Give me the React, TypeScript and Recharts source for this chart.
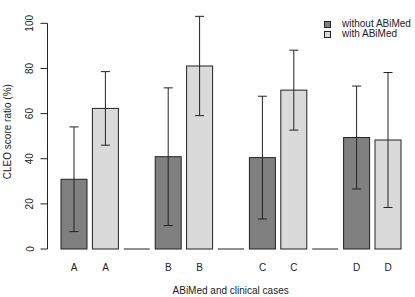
import React from "react";
import { BarChart, Bar, XAxis, YAxis, ErrorBar, ReferenceLine } from "recharts";

// scores (%), one value per clinical case
const cases = ["A", "B", "C", "D"];
const withoutScores = [30.9, 40.9, 40.5, 49.4];
const withoutErrors = [23.2, 30.5, 27.2, 22.8];
const withScores = [62.3, 81.1, 70.4, 48.3];
const withErrors = [16.3, 22.0, 17.7, 29.9];
const yTicks = [0, 20, 40, 60, 80, 100];
const seriesNames = ["without ABiMed", "with ABiMed"];

const FONT = "'Liberation Sans', Arial, Helvetica, sans-serif";
const INK = "#222";
const DARK = "#808080";
const LIGHT = "#dadada";
const AXIS_X = 47.5;

// bars go without / with, then an empty (zero) slot between cases
const rows = cases.flatMap((c, i) => {
  const pair = [
    { key: `${c}-without`, label: c, group: 0, value: withoutScores[i], err: withoutErrors[i] },
    { key: `${c}-with`, label: c, group: 1, value: withScores[i], err: withErrors[i] },
  ];
  if (i === cases.length - 1) return pair;
  return [...pair, { key: `gap-${i}`, label: "", group: -1, value: 0, err: null }];
});

const BarShape = (props: any) => {
  const { x, y, width, height, payload } = props;
  if (!height) {
    return <line x1={x} x2={x + width} y1={y} y2={y} stroke={INK} strokeWidth={1} />;
  }
  const fill = payload.group === 0 ? DARK : LIGHT;
  return <rect x={x} y={y} width={width} height={height} fill={fill} stroke={INK} strokeWidth={1} />;
};

const YTick = (props: any) => {
  const { x, y, payload } = props;
  const bx = x - 7;
  return (
    <text
      x={bx}
      y={y}
      transform={`rotate(-90 ${bx} ${y})`}
      textAnchor="middle"
      fontSize={10}
      fill={INK}
      fontFamily={FONT}
    >
      {payload.value}
    </text>
  );
};

const AxisLine = (props: any) => (
  <line x1={AXIS_X} x2={AXIS_X} y1={props.y1} y2={props.y2} stroke={INK} strokeWidth={1} />
);

export default function App() {
  return (
    <div
      style={{
        position: "absolute",
        left: 0,
        top: 0,
        width: 415,
        height: 297,
        background: "#fff",
        fontFamily: FONT,
      }}
    >
      <BarChart
        width={415}
        height={297}
        data={rows}
        margin={{ top: 14.3, right: 11.2, bottom: 0, left: 0 }}
        barCategoryGap={2.6}
      >
        <XAxis
          dataKey="key"
          height={48}
          axisLine={false}
          tickLine={false}
          tickSize={0}
          tickMargin={15}
          interval={0}
          padding={{ left: 10.9, right: 0 }}
          tickFormatter={(v: any, i: number) => rows[i].label}
          tick={{ fontSize: 10, fill: INK, fontFamily: FONT }}
          label={{
            value: "ABiMed and clinical cases",
            position: "insideBottom",
            offset: 3.5,
            dx: 5,
            fontSize: 10,
            fill: INK,
            fontFamily: FONT,
          }}
        />
        <YAxis
          width={AXIS_X}
          domain={[0, 104]}
          ticks={yTicks}
          interval={0}
          axisLine={false}
          tickSize={7}
          tickMargin={0}
          tickLine={{ stroke: INK }}
          tick={YTick}
          label={{
            value: "CLEO score ratio (%)",
            angle: -90,
            position: "center",
            dx: -16,
            fontSize: 10,
            fill: INK,
            fontFamily: FONT,
          }}
        />
        <ReferenceLine
          segment={[
            { x: rows[0].key, y: 0 },
            { x: rows[0].key, y: 100 },
          ]}
          ifOverflow="visible"
          shape={AxisLine}
        />
        <Bar dataKey="value" shape={BarShape} isAnimationActive={false}>
          <ErrorBar dataKey="err" width={4.5} stroke={INK} strokeWidth={1} isAnimationActive={false} />
        </Bar>
      </BarChart>

      <div
        style={{
          position: "absolute",
          left: 324,
          top: 19,
          fontSize: 10,
          lineHeight: "10px",
          color: INK,
        }}
      >
        {seriesNames.map((name, i) => (
          <div key={name} style={{ display: "flex", alignItems: "center", height: 10 }}>
            <span
              style={{
                width: 5,
                height: 5,
                border: `1px solid ${INK}`,
                background: i === 0 ? DARK : LIGHT,
                marginRight: 11,
              }}
            />
            {name}
          </div>
        ))}
      </div>
    </div>
  );
}
